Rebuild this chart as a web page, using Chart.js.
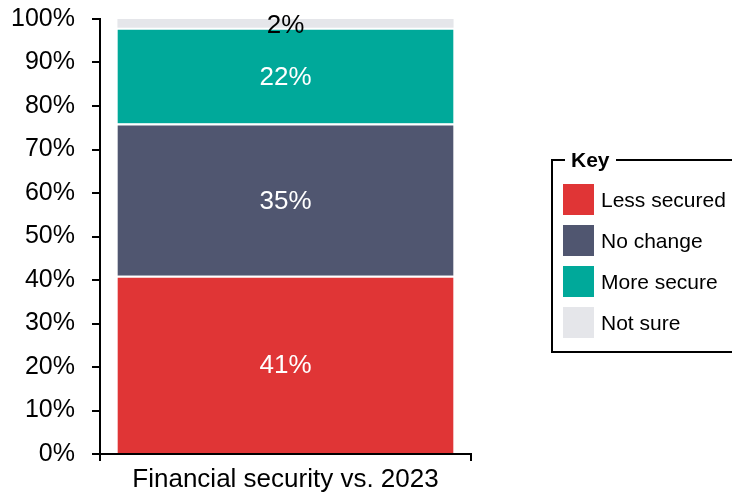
<!DOCTYPE html>
<html>
<head>
<meta charset="utf-8">
<script src="https://cdn.jsdelivr.net/npm/chart.js@4.4.1/dist/chart.umd.min.js"></script>
<style>
  html, body { margin: 0; padding: 0; background: #fff; }
  body { width: 732px; height: 493px; position: relative; overflow: hidden; font-family: 'Liberation Sans', Arial, sans-serif; }
  #chart { position: absolute; left: 0; top: 0; }
  #key {
    position: absolute; left: 551px; top: 148px; width: 200px; height: 194px;
    margin: 0; padding: 7px 0 0 10px; border: 2px solid #000; border-radius: 0;
  }
  #key legend { font-weight: bold; font-size: 21px; padding: 0 6px; margin-left: 2px; }
  .item { display: flex; align-items: center; height: 41px; font-size: 21px; color: #000; }
  .swatch { width: 31px; height: 31px; margin-right: 7px; flex: none; }
</style>
</head>
<body>
<canvas id="chart" width="732" height="493"></canvas>
<fieldset id="key"><legend>Key</legend><div id="items"></div></fieldset>
<script>
const categories = ['Financial security vs. 2023'];
const seriesNames = ['Less secured', 'No change', 'More secure', 'Not sure'];
const seriesValues = [[41], [35], [22], [2]];
const seriesColors = ['#e03536', '#505670', '#00a99a', '#e5e6ea'];
const labelColors = ['#fff', '#fff', '#fff', '#000'];
const yTicks = [0, 10, 20, 30, 40, 50, 60, 70, 80, 90, 100];

const FONT = "'Liberation Sans', Arial, sans-serif";

// percent text in the middle of each segment
const segmentLabels = {
  id: 'segmentLabels',
  afterDatasetsDraw(chart) {
    const ctx = chart.ctx;
    ctx.save();
    ctx.font = '26px ' + FONT;
    ctx.textAlign = 'center';
    ctx.textBaseline = 'middle';
    chart.data.datasets.forEach((ds, i) => {
      chart.getDatasetMeta(i).data.forEach((bar, j) => {
        const c = bar.getCenterPoint();
        ctx.fillStyle = labelColors[i];
        ctx.fillText(ds.data[j] + '%', c.x, c.y + 2);
      });
    });
    ctx.restore();
  }
};

const chart = new Chart(document.getElementById('chart'), {
  type: 'bar',
  data: {
    labels: categories,
    datasets: seriesNames.map((name, i) => ({
      label: name,
      data: seriesValues[i],
      backgroundColor: seriesColors[i],
      borderColor: '#fff',
      borderWidth: { top: i === 3 ? 0 : 2 },
      borderSkipped: false,
      categoryPercentage: 1,
      barPercentage: 0.906
    }))
  },
  options: {
    responsive: false,
    animation: false,
    layout: { padding: { top: 19, right: 261, bottom: 0, left: 0 } },
    scales: {
      x: {
        stacked: true,
        afterFit: s => { s.height = 39; s.paddingLeft = 0; s.paddingRight = 0; },
        grid: { drawOnChartArea: false, color: '#000', lineWidth: 2, tickLength: 7 },
        border: { color: '#000', width: 2 },
        ticks: { color: '#000', padding: 3, font: { size: 26, family: FONT } }
      },
      y: {
        stacked: true,
        min: 0,
        max: 100,
        afterFit: s => { s.width = 100; s.paddingTop = 0; s.paddingBottom = 0; },
        afterBuildTicks: s => { s.ticks = yTicks.map(v => ({ value: v })); },
        grid: { drawOnChartArea: false, color: '#000', lineWidth: 2, tickLength: 8 },
        border: { color: '#000', width: 2 },
        ticks: {
          color: '#000',
          padding: 17,
          font: { size: 25, family: FONT },
          callback: v => v + '%'
        }
      }
    },
    plugins: { legend: { display: false }, tooltip: { enabled: false } }
  },
  plugins: [segmentLabels]
});

// key built from the chart's own datasets
document.getElementById('items').innerHTML = chart.data.datasets.map(ds =>
  '<div class="item"><span class="swatch" style="background:' + ds.backgroundColor + '"></span>' + ds.label + '</div>'
).join('');
</script>
</body>
</html>
